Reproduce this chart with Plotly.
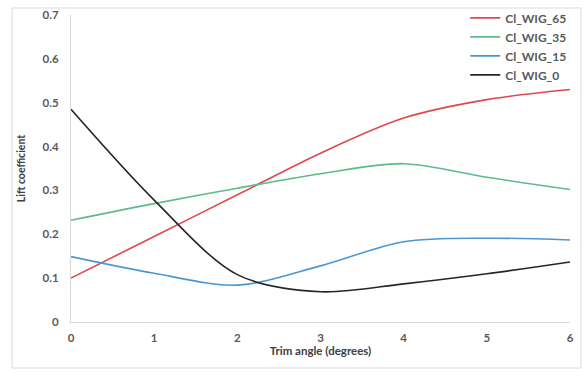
import plotly.graph_objects as go

# Trim angle (degrees) and lift coefficient for each WIG configuration
trim_angle = [0, 1, 2, 3, 4, 5, 6]
cl_wig_65 = [0.100, 0.195, 0.290, 0.385, 0.465, 0.507, 0.530]
cl_wig_35 = [0.232, 0.270, 0.305, 0.338, 0.361, 0.330, 0.302]
cl_wig_15 = [0.149, 0.111, 0.084, 0.128, 0.183, 0.191, 0.187]
cl_wig_0 = [0.485, 0.278, 0.108, 0.069, 0.087, 0.110, 0.137]

series = [
    ("Cl_WIG_65", cl_wig_65, "#e0474c"),
    ("Cl_WIG_35", cl_wig_35, "#5cbb8a"),
    ("Cl_WIG_15", cl_wig_15, "#4a97d2"),
    ("Cl_WIG_0", cl_wig_0, "#262626"),
]

x_ticks = [0, 1, 2, 3, 4, 5, 6]
y_ticks = [0, 0.1, 0.2, 0.3, 0.4, 0.5, 0.6, 0.7]

fig = go.Figure()
for name, values, color in series:
    fig.add_trace(go.Scatter(
        x=trim_angle, y=values, name=name, mode="lines",
        line=dict(color=color, width=1.6, shape="spline", smoothing=0.9),
    ))

font_main = "Lato, 'Open Sans', sans-serif"
grey = "#595959"
fs = 11.5

fig.update_layout(
    width=584, height=376,
    margin=dict(l=71, r=14, t=15, b=54, autoexpand=False),
    paper_bgcolor="white", plot_bgcolor="white",
    font=dict(family=font_main, color=grey, size=fs),
    showlegend=True,
    legend=dict(
        x=0.79, y=1.038, xanchor="left", yanchor="top",
        bgcolor="rgba(0,0,0,0)", itemwidth=30, tracegroupgap=0,
        font=dict(size=12, color=grey, family=font_main, weight="bold"),
    ),
    xaxis=dict(
        range=[0, 6], tickvals=x_ticks, ticktext=[str(v) for v in x_ticks],
        showgrid=False, zeroline=False, showline=True, linecolor="#d9d9d9", linewidth=1,
        ticks="", ticklabelstandoff=5,
        tickfont=dict(size=fs, color=grey, family=font_main, weight="bold"),
        title=dict(text="Trim angle (degrees)", standoff=4,
                   font=dict(size=fs, color="#404040", family=font_main, weight="bold")),
    ),
    yaxis=dict(
        range=[0, 0.7], tickvals=y_ticks, ticktext=["0", "0.1", "0.2", "0.3", "0.4", "0.5", "0.6", "0.7"],
        showgrid=False, zeroline=False, showline=True, linecolor="#d9d9d9", linewidth=1,
        ticks="", ticklabelstandoff=9,
        tickfont=dict(size=fs, color=grey, family=font_main, weight="bold"),
        title=dict(text="Lift coefficient", standoff=14,
                   font=dict(size=10.5, color="#404040", family=font_main, weight="bold")),
    ),
    shapes=[dict(
        type="rect", xref="paper", yref="paper",
        x0=-0.118, x1=1.022, y0=-0.150, y1=1.023,
        line=dict(color="#d9d9d9", width=1), fillcolor="rgba(0,0,0,0)", layer="below",
    )],
)

fig.write_html("out.html")
